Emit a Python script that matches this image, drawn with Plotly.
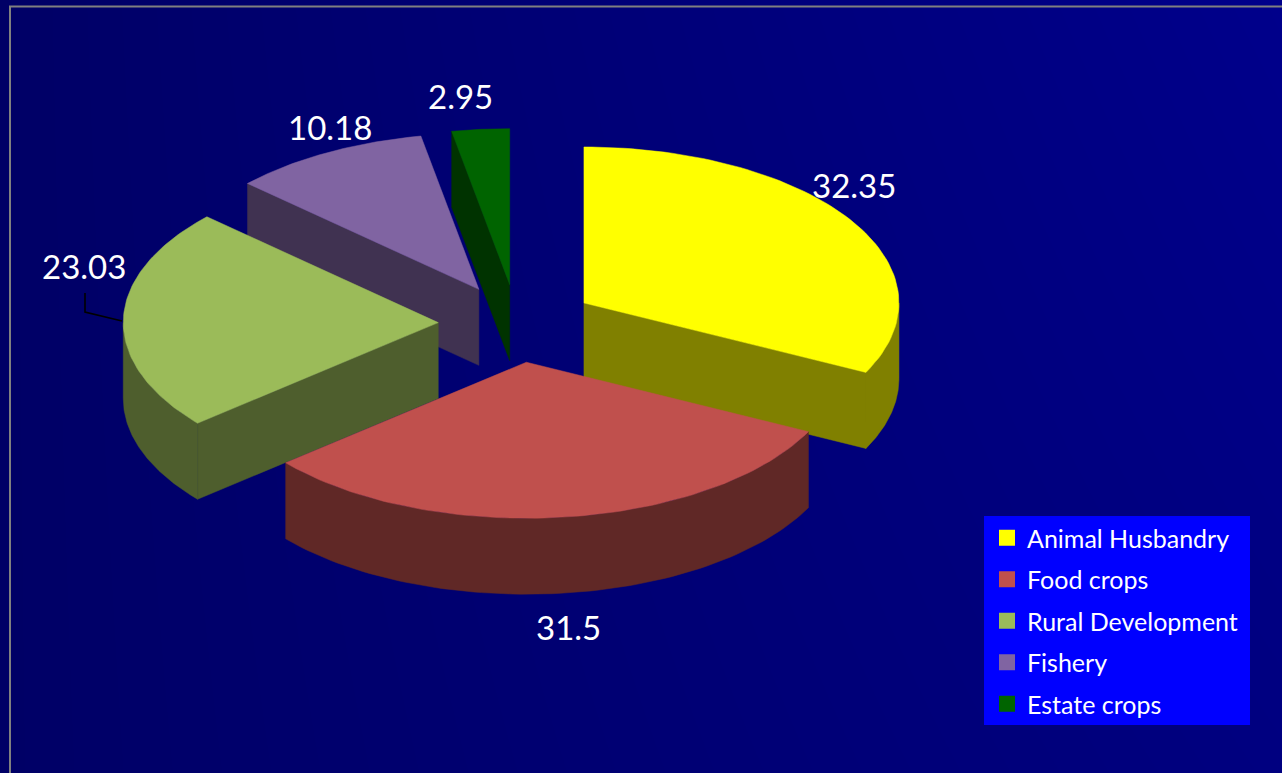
import numpy as np
import plotly.graph_objects as go

# ---- data ----
categories = ["Animal Husbandry", "Food crops", "Rural Development", "Fishery", "Estate crops"]
values = [32.35, 31.5, 23.03, 10.18, 2.95]
value_labels = ["32.35", "31.5", "23.03", "10.18", "2.95"]

# ---- styles ----
top_colors = ["#FFFF00", "#C0504D", "#9BBB59", "#8064A2", "#006400"]
wall_colors = ["#808000", "#602826", "#4E5E2D", "#403251", "#003300"]
draw_order = [4, 3, 0, 2, 1]

# ---- projection of the tilted pie, in the axes' units ----
CX, CY = 517, 323.5
RX, RY = 315, 156
DEPTH = 76
EXPLODE = 0.25
label_xy = [(854, 185), (568, 627), (84, 266), (330, 127), (460, 96)]


def pt(theta, r=1.0):
    return r * RX * np.sin(theta), -r * RY * np.cos(theta)


fig = go.Figure()

# background gradient
fig.add_trace(go.Heatmap(
    x=[0, 1282], y=[0, 773], z=[[0x66, 0x8B], [0x66, 0x80]],
    zsmooth="best", zmin=0, zmax=255,
    colorscale=[[0, "#000000"], [1, "#0000FF"]],
    showscale=False, hoverinfo="skip",
))

total = sum(values)
edges = np.concatenate([[0], np.cumsum(values) / total * 2 * np.pi])


def add_poly(xs, ys, color):
    fig.add_trace(go.Scatter(
        x=xs, y=ys, mode="lines", fill="toself", fillcolor=color,
        line=dict(color=color, width=0.5), showlegend=False, hoverinfo="skip",
    ))


for i in draw_order:
    a0, a1 = edges[i], edges[i + 1]
    mid = (a0 + a1) / 2
    ex, ey = pt(mid, EXPLODE)
    ax, ay = CX + ex, CY + ey
    ts = np.linspace(a0, a1, 80)
    rx, ry = pt(ts)
    rx, ry = ax + rx, ay + ry
    # walls visible to the viewer
    if np.sin(a0) < 0:
        add_poly([ax, rx[0], rx[0], ax, ax], [ay, ry[0], ry[0] + DEPTH, ay + DEPTH, ay], wall_colors[i])
    if np.sin(a1) > 0:
        add_poly([ax, rx[-1], rx[-1], ax, ax], [ay, ry[-1], ry[-1] + DEPTH, ay + DEPTH, ay], wall_colors[i])
    lo, hi = max(a0, np.pi / 2), min(a1, 3 * np.pi / 2)
    if lo < hi:
        tr = np.linspace(lo, hi, 80)
        wx, wy = pt(tr)
        wx, wy = ax + wx, ay + wy
        add_poly(np.r_[wx, wx[::-1], wx[0]], np.r_[wy, wy[::-1] + DEPTH, wy[0]], wall_colors[i])
    # top face
    add_poly(np.r_[ax, rx, ax], np.r_[ay, ry, ay], top_colors[i])

# legend entries
for name, col in zip(categories, top_colors):
    fig.add_trace(go.Scatter(
        x=[None], y=[None], mode="markers", name=name, legendgroup=name,
        marker=dict(symbol="square", size=16, color=col),
    ))

# leader line for 23.03
fig.add_trace(go.Scatter(x=[85, 85, 122], y=[293, 312, 321], mode="lines",
                         line=dict(color="#000000", width=1.6), showlegend=False, hoverinfo="skip"))

# frame
fig.add_trace(go.Scatter(x=[1282, 10, 10], y=[6.5, 6.5, 773], mode="lines",
                         line=dict(color="#808080", width=2), showlegend=False, hoverinfo="skip"))

# value labels
for txt, (lx, ly) in zip(value_labels, label_xy):
    fig.add_annotation(x=lx, y=ly, text=txt, showarrow=False, xanchor="center", yanchor="middle",
                       font=dict(family="Lato, Carlito, sans-serif", size=33, color="#FFFFFF"))

# legend panel behind the native legend
fig.add_shape(type="rect", x0=984, x1=1250, y0=516, y1=725, xref="x", yref="y",
              fillcolor="#0000FF", line=dict(width=0), layer="above")

fig.update_layout(
    width=1282, height=773, autosize=False,
    margin=dict(l=0, r=0, t=0, b=0),
    paper_bgcolor="#00006E", plot_bgcolor="#00006E",
    xaxis=dict(range=[0, 1282], visible=False, fixedrange=True),
    yaxis=dict(range=[773, 0], visible=False, fixedrange=True),
    showlegend=True,
    legend=dict(
        x=987 / 1282, y=1 - 515 / 773, xanchor="left", yanchor="top",
        bgcolor="rgba(0,0,0,0)", borderwidth=0,
        font=dict(family="Lato, Carlito, sans-serif", size=25, color="#FFFFFF"),
        tracegroupgap=6, traceorder="grouped", itemsizing="trace",
    ),
)

fig.write_html("out.html", config={"displayModeBar": False},
               post_script="document.body.style.margin='0';document.body.style.overflow='hidden';")
